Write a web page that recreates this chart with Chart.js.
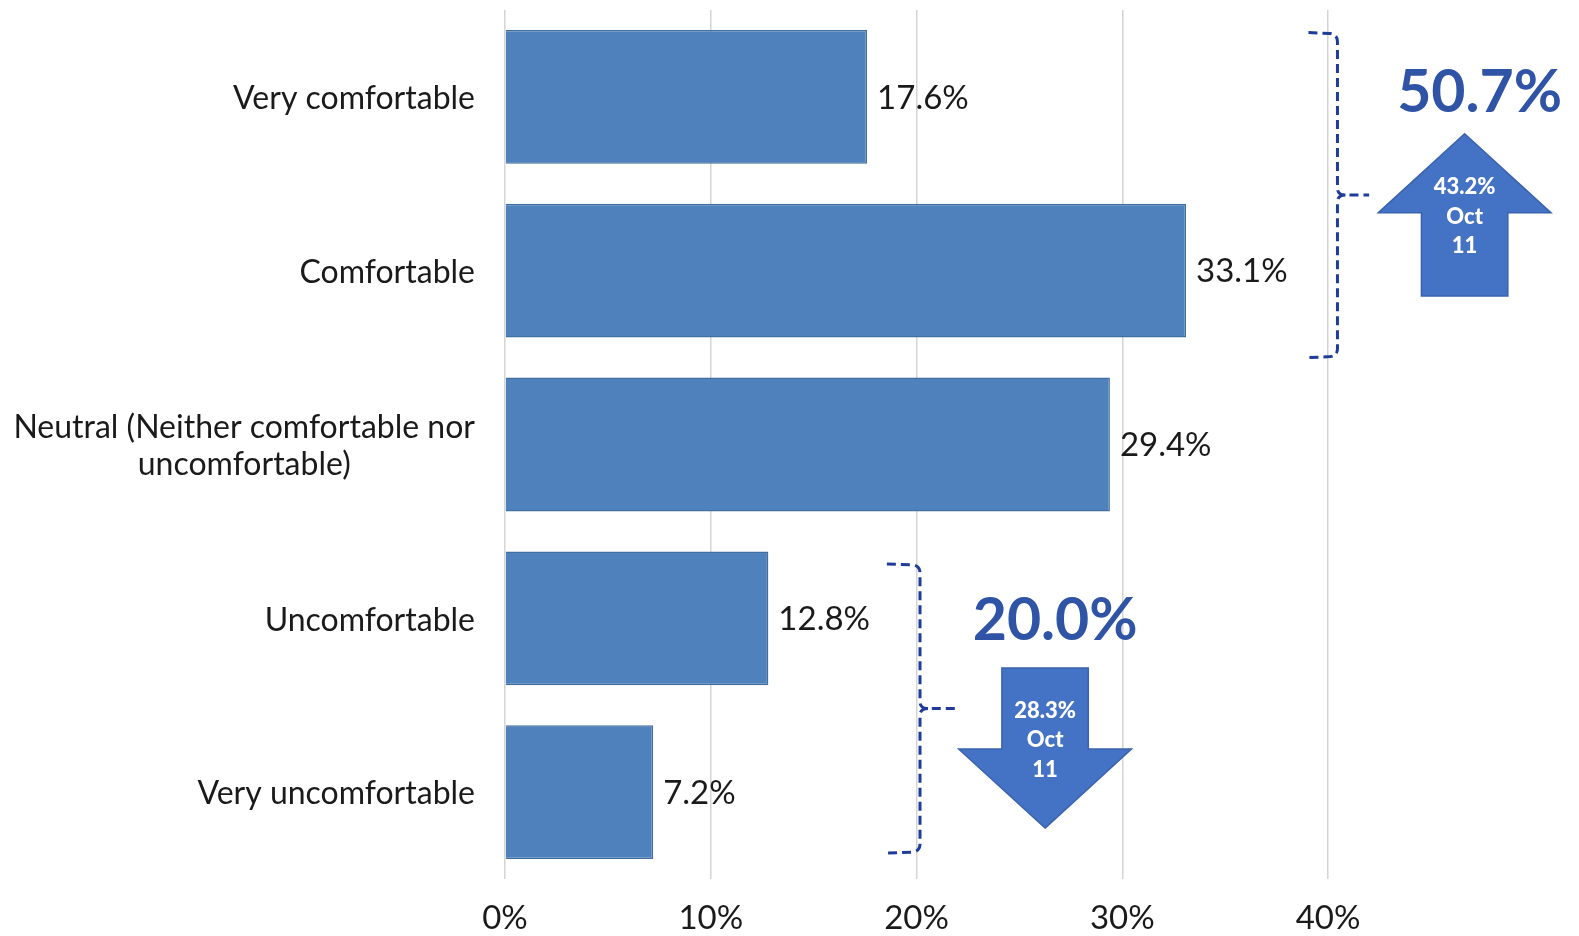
<!DOCTYPE html>
<html>
<head>
<meta charset="utf-8">
<script src="https://cdn.jsdelivr.net/npm/chart.js@4/dist/chart.umd.min.js"></script>
<style>
  html, body { margin: 0; padding: 0; background: #fff; }
  #wrap { width: 1579px; height: 936px; position: relative; }
</style>
</head>
<body>
<div id="wrap"><canvas id="grafico"></canvas></div>
<script>
const categorias = [
  'Very comfortable',
  'Comfortable',
  ['Neutral (Neither comfortable nor', 'uncomfortable)'],
  'Uncomfortable',
  'Very uncomfortable'
];
const percentuais = [17.6, 33.1, 29.4, 12.8, 7.2];
const ticksX = [0, 10, 20, 30, 40];
const grupoConfortavel = [0, 1];
const grupoDesconfortavel = [3, 4];
const anterior = [43.2, 28.3];
const rotuloAnterior = ['Oct', '11'];

const FONTE = 'Lato, "DejaVu Sans", sans-serif';
const AZUL_TEXTO = '#2F54A6';
const AZUL_CHAVE = '#1F3C99';

// chaves e setas, em unidades dos eixos (x em %, y em indice de categoria)
const destaques = [
  {
    linhas: grupoConfortavel, antes: anterior[0], sobe: true,
    chave: { x0: 39.05, x1: 40.46, x2: 42.0, y0: -0.37, y1: 1.5 },
    total: { x: 47.37, y: -0.02 },
    seta: { x: 46.64, ponta: 0.212, base: 0.667, fim: 1.145, cabeca: 4.2, haste: 2.1, texto: 0.69 }
  },
  {
    linhas: grupoDesconfortavel, antes: anterior[1], sobe: false,
    chave: { x0: 18.56, x1: 20.17, x2: 21.87, y0: 2.687, y1: 4.351 },
    total: { x: 26.74, y: 3.016 },
    seta: { x: 26.25, ponta: 4.207, base: 3.752, fim: 3.286, cabeca: 4.2, haste: 2.1, texto: 3.70 }
  }
];

const rotulosCategorias = {
  id: 'rotulosCategorias',
  afterDraw(chart) {
    const ctx = chart.ctx;
    const y = chart.scales.y;
    const direita = chart.chartArea.left - 30;
    ctx.save();
    ctx.font = '32px ' + FONTE;
    ctx.fillStyle = '#1a1a1a';
    ctx.textAlign = 'center';
    ctx.textBaseline = 'middle';
    categorias.forEach((cat, i) => {
      const linhas = Array.isArray(cat) ? cat : [cat];
      const largura = Math.max(...linhas.map(l => ctx.measureText(l).width));
      const cx = direita - largura / 2;
      const cy = y.getPixelForValue(i) + 2;
      linhas.forEach((l, k) => {
        ctx.fillText(l, cx, cy + (k - (linhas.length - 1) / 2) * 37);
      });
    });
    ctx.restore();
  }
};

const rotulosValores = {
  id: 'rotulosValores',
  afterDatasetsDraw(chart) {
    const ctx = chart.ctx;
    ctx.save();
    ctx.font = '33px ' + FONTE;
    ctx.fillStyle = '#1a1a1a';
    ctx.textAlign = 'left';
    ctx.textBaseline = 'middle';
    chart.getDatasetMeta(0).data.forEach((barra, i) => {
      ctx.fillText(percentuais[i].toFixed(1) + '%', barra.x + 10, barra.y + 1);
    });
    ctx.restore();
  }
};

function desenharChave(ctx, x0, x1, x2, y0, y1) {
  const ym = (y0 + y1) / 2;
  ctx.beginPath();
  ctx.moveTo(x0, y0);
  ctx.lineTo(x1 - 7, y0 + 1);
  ctx.quadraticCurveTo(x1, y0 + 2, x1, y0 + 9);
  ctx.lineTo(x1, ym - 7);
  ctx.quadraticCurveTo(x1, ym, x1 + 8, ym);
  ctx.lineTo(x2, ym);
  ctx.moveTo(x1 + 8, ym);
  ctx.quadraticCurveTo(x1, ym, x1, ym + 7);
  ctx.lineTo(x1, y1 - 9);
  ctx.quadraticCurveTo(x1, y1 - 2, x1 - 7, y1 - 1);
  ctx.lineTo(x0, y1);
  ctx.stroke();
}

const destaquesGrupos = {
  id: 'destaquesGrupos',
  afterDraw(chart) {
    const ctx = chart.ctx;
    const sx = chart.scales.x;
    const sy = chart.scales.y;
    const px = v => sx.getPixelForValue(v);
    const py = v => sy.getPixelForValue(v);
    ctx.save();
    destaques.forEach(d => {
      // chave tracejada
      ctx.setLineDash([9, 5]);
      ctx.lineWidth = 3;
      ctx.strokeStyle = AZUL_CHAVE;
      desenharChave(ctx, px(d.chave.x0), px(d.chave.x1), px(d.chave.x2), py(d.chave.y0), py(d.chave.y1));
      ctx.setLineDash([]);

      // soma do grupo
      const soma = d.linhas.reduce((s, i) => s + percentuais[i], 0);
      ctx.font = 'bold 59px ' + FONTE;
      ctx.fillStyle = AZUL_TEXTO;
      ctx.textAlign = 'center';
      ctx.textBaseline = 'middle';
      ctx.fillText(soma.toFixed(1) + '%', px(d.total.x), py(d.total.y));

      // seta
      const s = d.seta;
      const cx = px(s.x);
      const hc = px(s.x + s.cabeca) - cx;
      const hh = px(s.x + s.haste) - cx;
      const yp = py(s.ponta), yb = py(s.base), yf = py(s.fim);
      ctx.beginPath();
      ctx.moveTo(cx, yp);
      ctx.lineTo(cx + hc, yb);
      ctx.lineTo(cx + hh, yb);
      ctx.lineTo(cx + hh, yf);
      ctx.lineTo(cx - hh, yf);
      ctx.lineTo(cx - hh, yb);
      ctx.lineTo(cx - hc, yb);
      ctx.closePath();
      ctx.fillStyle = '#4472C4';
      ctx.fill();
      ctx.lineWidth = 1.5;
      ctx.strokeStyle = '#3A63AD';
      ctx.stroke();

      const textos = [d.antes.toFixed(1) + '%', ...rotuloAnterior];
      ctx.font = '900 22px ' + FONTE;
      ctx.fillStyle = '#ffffff';
      const ty = py(s.texto);
      textos.forEach((t, k) => {
        ctx.fillText(t, cx, ty + (k - 1) * 29.5);
      });
    });
    ctx.restore();
  }
};

new Chart(document.getElementById('grafico'), {
  type: 'bar',
  data: {
    labels: categorias,
    datasets: [{
      data: percentuais,
      backgroundColor: '#4F81BD',
      borderColor: '#41709F',
      borderWidth: 1.5,
      barPercentage: 0.77,
      categoryPercentage: 1
    }]
  },
  options: {
    indexAxis: 'y',
    responsive: true,
    maintainAspectRatio: false,
    animation: false,
    layout: { padding: { top: 10, right: 251, left: 0, bottom: 0 } },
    plugins: {
      legend: { display: false },
      tooltip: { enabled: false }
    },
    scales: {
      x: {
        min: ticksX[0],
        max: ticksX[ticksX.length - 1],
        afterBuildTicks: escala => { escala.ticks = ticksX.map(v => ({ value: v })); },
        afterFit: escala => { escala.height = 57; },
        grid: { color: '#D4D4D4', lineWidth: 1.5, drawTicks: false },
        border: { display: false },
        ticks: {
          padding: 20,
          color: '#1a1a1a',
          font: { family: FONTE, size: 33 },
          callback: v => v + '%'
        }
      },
      y: {
        afterFit: escala => { escala.width = 505; },
        grid: { display: false },
        border: { display: false },
        ticks: { display: false }
      }
    }
  },
  plugins: [rotulosCategorias, rotulosValores, destaquesGrupos]
});
</script>
</body>
</html>
